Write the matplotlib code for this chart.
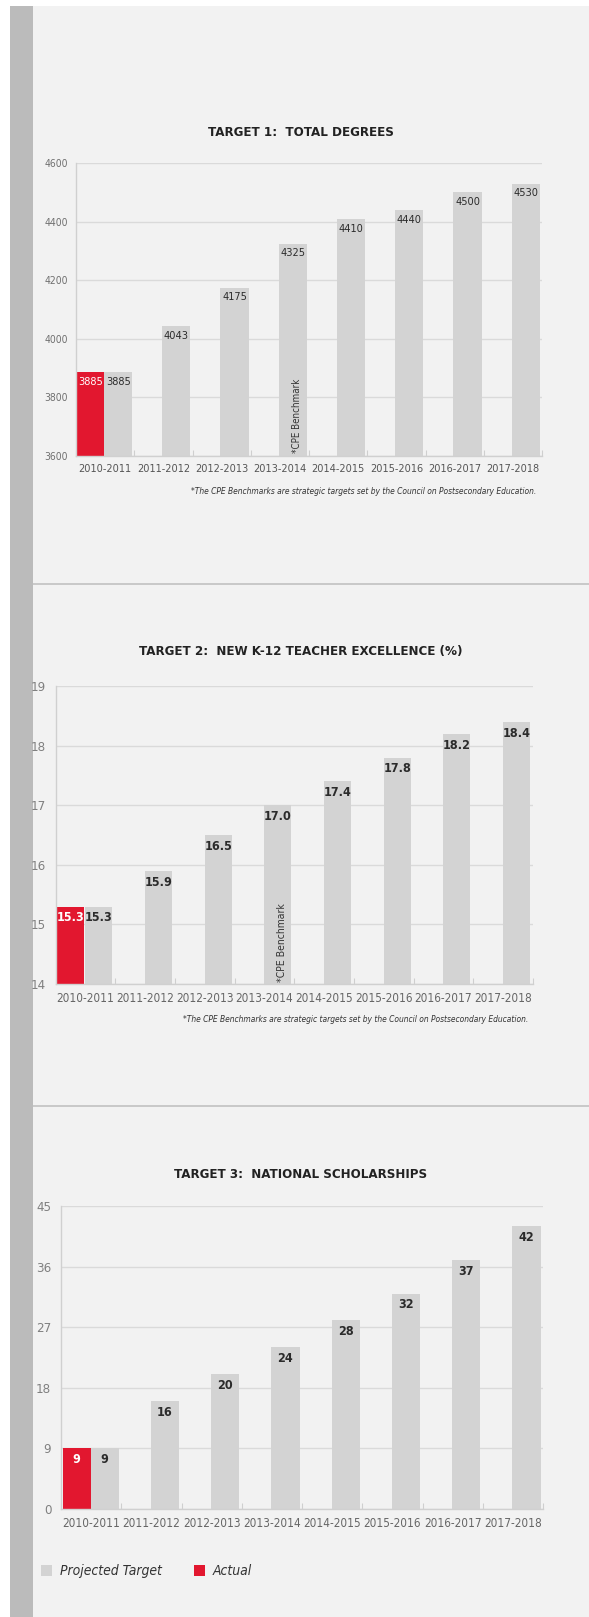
import matplotlib
matplotlib.use("Agg")
import matplotlib.pyplot as plt
from matplotlib import font_manager
from matplotlib.patches import Rectangle

# data
years = ['2010-2011', '2011-2012', '2012-2013', '2013-2014',
         '2014-2015', '2015-2016', '2016-2017', '2017-2018']
degrees_target = [3885, 4043, 4175, 4325, 4410, 4440, 4500, 4530]
degrees_actual = [3885]
teacher_target = [15.3, 15.9, 16.5, 17.0, 17.4, 17.8, 18.2, 18.4]
teacher_actual = [15.3]
schol_target = [9, 16, 20, 24, 28, 32, 37, 42]
schol_actual = [9]

titles = ['TARGET 1:  TOTAL DEGREES',
          'TARGET 2:  NEW K-12 TEACHER EXCELLENCE (%)',
          'TARGET 3:  NATIONAL SCHOLARSHIPS']
footnote = ('*The CPE Benchmarks are strategic targets set by the '
            'Council on Postsecondary Education.')
benchmark = '*CPE Benchmark'
legend_labels = ['Projected Target', 'Actual']

GRAY = '#d3d3d3'
RED = '#e2172f'
BG = '#f2f2f2'

names = {f.name for f in font_manager.fontManager.ttflist}
if 'Liberation Sans Narrow' in names:
    FONT = 'Liberation Sans Narrow'
    STRETCH = 'normal'
else:
    FONT = 'DejaVu Sans'
    STRETCH = 'condensed'
plt.rcParams['font.family'] = [FONT, 'DejaVu Sans']
plt.rcParams['font.stretch'] = STRETCH

W, H = 589, 1617
fig = plt.figure(figsize=(W / 100, H / 100), dpi=100, facecolor='white')


def fx(x):
    return x / W


def fy(y):
    return 1 - y / H


def rect(x0, y0, x1, y1, color):
    fig.add_artist(Rectangle((fx(x0), fy(y1)), (x1 - x0) / W, (y1 - y0) / H,
                             transform=fig.transFigure, color=color, lw=0, zorder=0))


# page background, side strip and separators
rect(10, 6, W, H, BG)
rect(10, 6, 33, H, '#bbbbbb')
rect(33, 583, W, 585.5, '#c9c9c9')
rect(33, 1104.5, W, 1107, '#c9c9c9')


def chart(box, target, actual, ylim, step, fmt, cfg):
    l, t, r, b = box
    ax = fig.add_axes([fx(l), fy(b), (r - l) / W, (b - t) / H])
    ax.set_facecolor('none')
    n = len(target)
    gx = [i + cfg['gray'][0] for i in range(n)]
    gw = cfg['gray'][1] - cfg['gray'][0]
    ax.bar(gx, [v - ylim[0] for v in target], width=gw, bottom=ylim[0],
           align='edge', color=GRAY, zorder=2)
    rx = [i + cfg['red'][0] for i in range(len(actual))]
    rw = cfg['red'][1] - cfg['red'][0]
    ax.bar(rx, [v - ylim[0] for v in actual], width=rw, bottom=ylim[0],
           align='edge', color=RED, zorder=2)

    for x, v in zip(gx, target):
        ax.annotate(fmt % v, (x + gw / 2, v), xytext=(0, -3.5),
                    textcoords='offset points', ha='center', va='top',
                    fontsize=cfg['val'], fontweight=cfg['valw'],
                    color='#2b2b2b', zorder=3)
    for x, v in zip(rx, actual):
        ax.annotate(fmt % v, (x + rw / 2, v), xytext=(0, -3.5),
                    textcoords='offset points', ha='center', va='top',
                    fontsize=cfg['val'], fontweight=cfg['valw'],
                    color='white', zorder=3)

    ax.set_xlim(0, n)
    ax.set_ylim(*ylim)
    ticks = []
    y = ylim[0]
    while y <= ylim[1] + 1e-9:
        ticks.append(y)
        y += step
    ax.set_yticks(ticks)
    ax.set_yticklabels([str(int(round(v))) for v in ticks])
    ax.tick_params(axis='y', length=0, pad=cfg['ypad'], labelsize=cfg['ytick'],
                   labelcolor=cfg['ycol'])
    ax.set_xticks([i + 0.5 for i in range(n)])
    ax.set_xticklabels(years)
    ax.tick_params(axis='x', which='major', length=0, pad=cfg['xpad'],
                   labelsize=cfg['xtick'], labelcolor=cfg['xcol'])
    ax.set_xticks(range(n + 1), minor=True)
    ax.tick_params(axis='x', which='minor', direction='in', length=4,
                   width=0.8, color='#cfcfcf')
    ax.grid(axis='y', color='#dadada', lw=1, zorder=0)
    for s in ['top', 'right']:
        ax.spines[s].set_visible(False)
    for s in ['left', 'bottom']:
        ax.spines[s].set_color('#d0d0d0')
        ax.spines[s].set_linewidth(1)
    return ax


cfg1 = dict(gray=(0.48, 0.965), red=(0.02, 0.48), val=7.8, valw='medium',
            ytick=7.5, ycol='#707070', xtick=7.8, xcol='#555555', ypad=6, xpad=6)
ax1 = chart((76, 163, 542, 456), degrees_target, degrees_actual,
            (3600, 4600), 200, '%d', cfg1)
ax1.text(3.8, 3610, benchmark, rotation=90, ha='center', va='bottom',
         fontsize=7, color='#333333', zorder=3)
fig.text(fx(301), fy(132), titles[0], ha='center', va='center',
         fontsize=9.5, fontweight='bold', color='#222222')
fig.text(fx(536), fy(491), footnote, ha='right', va='center',
         fontsize=6, style='italic', color='#333333')

cfg2 = dict(gray=(0.50, 0.95), red=(0.03, 0.47), val=9, valw='bold',
            ytick=9.5, ycol='#808080', xtick=8.5, xcol='#666666', ypad=7, xpad=6)
ax2 = chart((55.6, 686, 533, 984), teacher_target, teacher_actual,
            (14, 19), 1, '%.1f', cfg2)
ax2.text(3.79, 14.03, benchmark, rotation=90, ha='center', va='bottom',
         fontsize=7.5, color='#333333', zorder=3)
fig.text(fx(301), fy(652), titles[1], ha='center', va='center',
         fontsize=9.5, fontweight='bold', color='#222222')
fig.text(fx(528), fy(1020), footnote, ha='right', va='center',
         fontsize=6, style='italic', color='#333333')

cfg3 = dict(gray=(0.49, 0.96), red=(0.03, 0.49), val=9, valw='bold',
            ytick=9.5, ycol='#808080', xtick=8.5, xcol='#666666', ypad=7, xpad=6)
ax3 = chart((61, 1206, 543, 1509), schol_target, schol_actual,
            (0, 45), 9, '%d', cfg3)
fig.text(fx(301), fy(1174), titles[2], ha='center', va='center',
         fontsize=9.5, fontweight='bold', color='#222222')

# legend
rect(40.5, 1565, 51.5, 1576, GRAY)
fig.text(fx(60), fy(1570.5), legend_labels[0], ha='left', va='center',
         fontsize=10, style='italic', color='#333333')
rect(194, 1565, 205, 1576, RED)
fig.text(fx(213), fy(1570.5), legend_labels[1], ha='left', va='center',
         fontsize=10, style='italic', color='#333333')

fig.savefig('out.png', dpi=100, facecolor=fig.get_facecolor())
